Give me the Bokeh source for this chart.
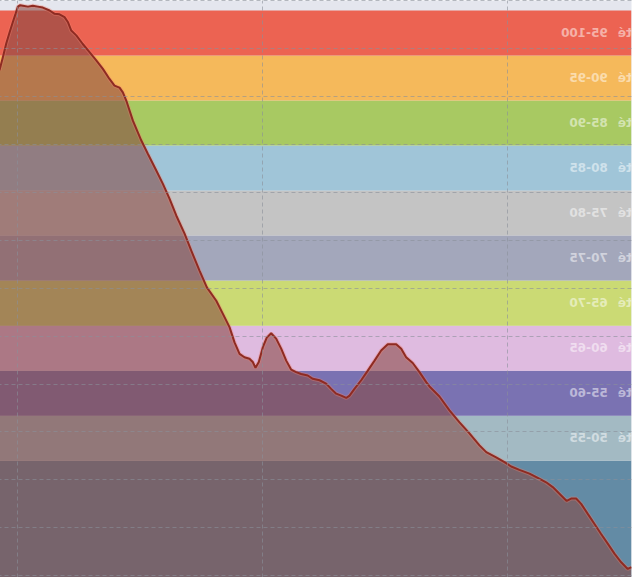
from bokeh.plotting import figure
from bokeh.models import BoxAnnotation, Label, FixedTicker
from bokeh.embed import file_html
from bokeh.resources import INLINE

# ---- data ----
hr_max = 188
zone_lo = [50, 55, 60, 65, 70, 75, 80, 85, 90, 95]
zone_hi = [55, 60, 65, 70, 75, 80, 85, 90, 95, 100]
zone_colors = ["#a3bac3", "#7a72b2", "#dfbbe0", "#cbda74", "#a3a7bb",
               "#c4c4c4", "#a0c5d8", "#a8c962", "#f5b95b", "#ec6352"]
zone_word = "Intensité"
base_zone_color = "#638ba5"

time_min = [29.85, 30.16, 30.69, 31.24, 31.79, 32.33, 32.87, 33.42, 33.96, 34.37,
            34.78, 35.14, 35.73, 36.28, 36.82, 37.50, 38.18, 39.00, 39.67, 40.22,
            40.90, 41.71, 42.26, 43.08, 43.89, 44.71, 45.53, 46.34, 46.61, 47.16,
            47.71, 48.25, 48.65, 49.06, 49.75, 50.29, 50.83, 51.38, 51.92, 52.47,
            52.87, 53.14, 53.55, 53.96, 54.37, 54.78, 55.32, 55.87, 56.28, 56.82,
            57.23, 57.63, 58.04, 58.45, 58.86, 59.27, 59.63, 59.95, 60.28, 60.55,
            60.77, 61.04, 61.45, 61.85, 62.26, 62.67, 63.22, 63.75, 64.52, 65.12,
            65.80, 66.34, 67.02, 67.57, 68.11, 68.65, 69.34, 69.88, 70.56, 71.10,
            71.38, 71.65, 72.06, 72.47, 73.01, 73.55, 74.10, 74.65, 75.18, 75.59,
            75.87, 76.14, 76.55, 76.95, 77.36, 77.91, 78.32, 78.73, 79.13, 79.54,
            79.76, 79.95, 80.14, 80.36, 80.63, 80.90, 81.18, 81.45]
heart_rate = [71.8, 71.4, 72.8, 74.6, 76.7, 78.7, 80.8, 82.9, 85.0, 86.1,
              86.1, 85.6, 87.1, 88.5, 89.5, 90.4, 91.3, 92.1, 92.8, 93.7,
              94.7, 95.8, 97.2, 99.7, 102.0, 104.5, 107.4, 109.5, 110.4, 112.5,
              114.4, 115.6, 117.4, 118.3, 118.3, 117.0, 114.9, 112.8, 110.8, 109.0,
              107.6, 107.1, 107.6, 108.0, 109.0, 110.1, 110.8, 111.1, 111.8, 112.1,
              112.5, 113.0, 114.9, 117.4, 119.5, 120.6, 119.7, 117.7, 114.6, 113.4,
              114.6, 115.3, 115.6, 116.3, 118.7, 121.9, 124.7, 127.4, 130.2, 133.7,
              137.9, 141.4, 145.2, 148.7, 151.8, 154.6, 158.1, 160.9, 165.0, 169.2,
              170.9, 171.9, 172.3, 173.7, 175.8, 177.6, 179.3, 181.0, 182.8, 183.8,
              185.6, 186.6, 187.2, 187.3, 188.0, 188.6, 188.8, 189.0, 188.8, 189.0,
              189.1, 188.8, 187.3, 185.6, 183.4, 181.1, 178.2, 175.5]

x_grid_ticks = [20, 40, 60, 80, 100]
y_grid_ticks = [60, 70, 80, 90, 100, 110, 120, 130, 140, 150, 160, 170, 180, 190]

# ---- figure ----
p = figure(width=632, height=577, output_backend="svg", toolbar_location=None,
           x_range=(29.85, 81.45), y_range=(69.62, 190.08),
           x_axis_location=None, y_axis_location=None,
           min_border=0, outline_line_color=None,
           background_fill_color="#e4e6ee")
# the reference picture is a mirror image of the chart
p.styles = {"transform": "scaleX(-1)"}

p.xgrid.ticker = FixedTicker(ticks=x_grid_ticks)
p.ygrid.ticker = FixedTicker(ticks=y_grid_ticks)
for g in (p.xgrid, p.ygrid):
    g.grid_line_color = "#8a8f99"
    g.grid_line_alpha = 0.6
    g.grid_line_dash = "4 3"
    g.grid_line_width = 1
    g.level = "overlay"

# zones
p.add_layout(BoxAnnotation(top=hr_max * zone_lo[0] / 100, fill_color=base_zone_color,
                           fill_alpha=1, line_color=None, level="underlay"))
for lo, hi, c in zip(zone_lo, zone_hi, zone_colors):
    p.add_layout(BoxAnnotation(bottom=hr_max * lo / 100, top=hr_max * hi / 100,
                               fill_color=c, fill_alpha=1, line_color=None,
                               level="underlay"))

# curve
p.varea(x=time_min, y1=0, y2=heart_rate, fill_color="#864844", fill_alpha=0.58)
p.line(time_min, heart_rate, line_color="#f08070", line_width=4, line_alpha=0.35)
p.line(time_min, heart_rate, line_color="#8e2b22", line_width=2)

# zone labels
for lo, hi in zip(zone_lo, zone_hi):
    p.add_layout(Label(x=-47, x_units="screen", y=hr_max * (lo + hi) / 200,
                       text=f"{zone_word}\u00a0\u2002{lo}-{hi}", text_color="white",
                       text_alpha=0.5, text_font="DejaVu Sans",
                       text_font_style="bold", text_font_size="12px",
                       text_baseline="middle", text_align="left"))

open("out.html", "w").write(file_html(p, INLINE))
